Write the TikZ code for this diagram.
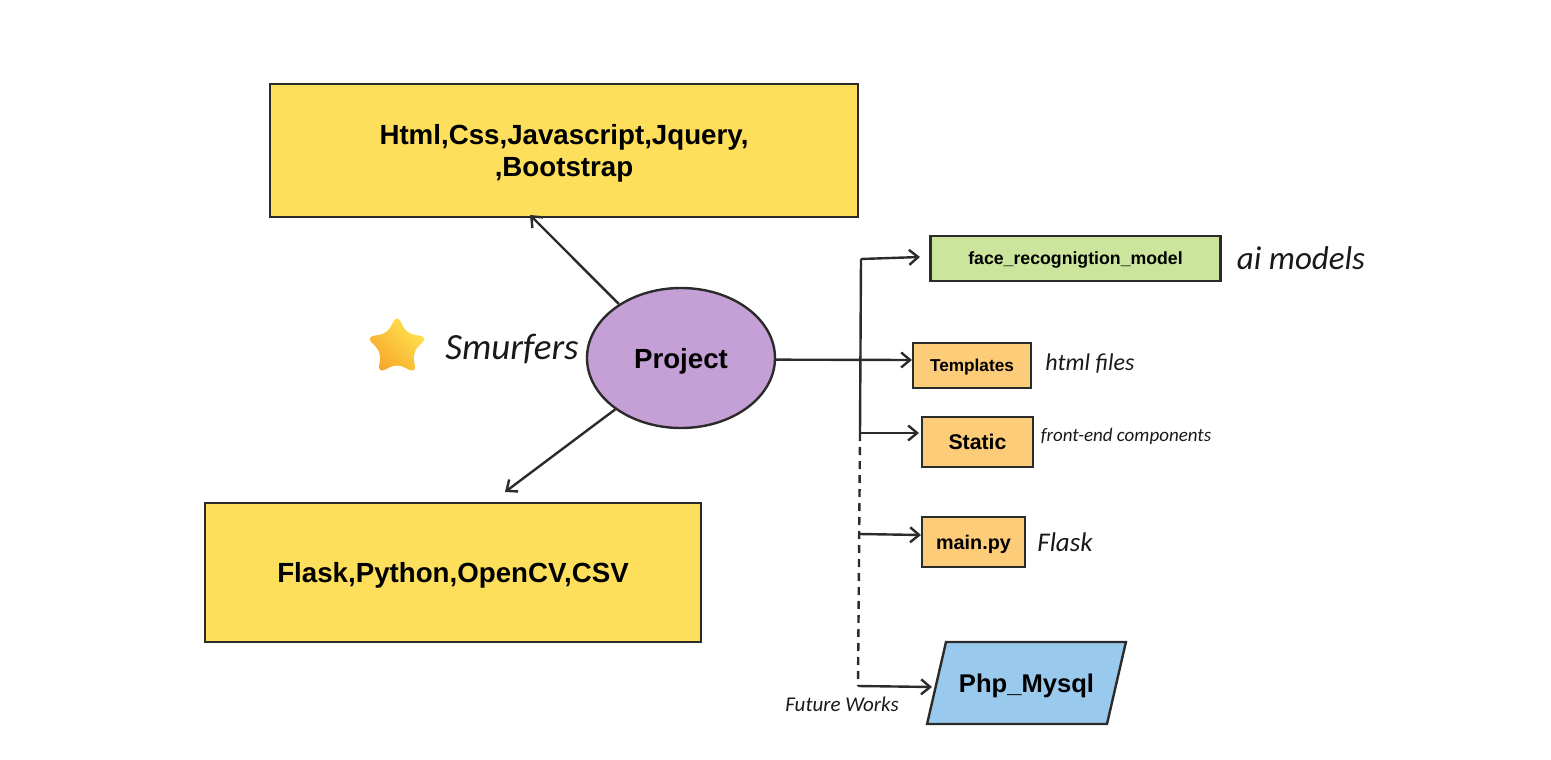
\documentclass[tikz,border=0pt]{standalone}
\usepackage{fontspec}
\setmainfont{Liberation Sans}
\newfontfamily\handfont{Carlito}
\usetikzlibrary{arrows.meta,shapes.geometric}
\definecolor{boxyellow}{HTML}{FDDF5B}
\definecolor{boxpurple}{HTML}{C5A0D6}
\definecolor{boxgreen}{HTML}{CCE59C}
\definecolor{boxorange}{HTML}{FDCC78}
\definecolor{boxblue}{HTML}{9AC9EE}
\definecolor{inkline}{HTML}{2B2B2B}
\definecolor{starlow}{HTML}{F7A62B}
\definecolor{starhigh}{HTML}{FFE650}
\newcommand{\fsize}[1]{\fontsize{#1}{#1}\selectfont}
\begin{document}
\begin{tikzpicture}[x=1pt,y=-1pt,
	box/.style={draw=inkline,line width=2.4pt,inner sep=0,text depth=0pt,font=\bfseries},
	note/.style={inner sep=0,text=black!90,font=\handfont\itshape},
	link/.style={draw=inkline,line width=2.4pt,-{Straight Barb[length=9pt,width=15pt,line width=2.4pt]}},
	spine/.style={draw=inkline,line width=2.4pt}]
\useasboundingbox (0,0) rectangle (1551,760);
\node[box,fill=boxyellow,minimum width=588pt,minimum height=133pt,align=center,font=\bfseries\fsize{27.7}] (front) at (564,150.5) {Html,Css,Javascript,Jquery,\\[4pt],Bootstrap};
\node[box,fill=boxyellow,minimum width=496pt,minimum height=139pt,font=\bfseries\fsize{27.7}] (back) at (453,572.5) {Flask,Python,OpenCV,CSV};
\node[box,ellipse,fill=boxpurple,minimum width=188pt,minimum height=140pt,font=\bfseries\fsize{27.7}] (project) at (681,358) {Project};
\node[box,fill=boxgreen,minimum width=290pt,minimum height=45pt,font=\bfseries\fsize{17.7}] (model) at (1075.5,258.5) {face\_recognigtion\_model};
\node[box,fill=boxorange,minimum width=118pt,minimum height=45pt,font=\bfseries\fsize{17.2}] (templates) at (972,365.5) {Templates};
\node[box,fill=boxorange,minimum width=111pt,minimum height=50pt,font=\bfseries\fsize{21.3}] (static) at (977.5,442) {Static};
\node[box,fill=boxorange,minimum width=103pt,minimum height=50pt,font=\bfseries\fsize{19.8}] (mainpy) at (973.5,542) {main.py};
\node[box,trapezium,trapezium left angle=77,trapezium right angle=103,fill=boxblue,text width=161pt,align=center,text height=50pt,text depth=32pt,font=\bfseries\fsize{25.6}] (php) at (1026.5,683) {Php\_Mysql};
% labels
\node[star,star points=5,star point ratio=1.9,minimum size=64pt,inner sep=0,rounded corners=7pt,top color=starhigh,bottom color=starlow,shading angle=-45] (badge) at (397,347) {};
\node[note,font=\handfont\itshape\fsize{37}] (smurfers) at (512,349) {Smurfers};
\node[note,font=\handfont\itshape\fsize{33}] (ailabel) at (1301,258) {ai models};
\node[note,font=\handfont\itshape\fsize{24}] (htmllabel) at (1090,364) {html files};
\node[note,font=\handfont\itshape\fsize{19}] (frontlabel) at (1126,436) {front-end components};
\node[note,font=\handfont\itshape\fsize{27}] (flasklabel) at (1065,542) {Flask};
\node[note,font=\handfont\itshape\fsize{21}] (future) at (842,704) {Future Works};
% junctions on the spine
\coordinate (top) at (861,259);
\coordinate (staticj) at (860,433);
\coordinate (mainj) at (859,534);
\coordinate (phpj) at (858,686);
\coordinate (fronttip) at (530,215);
\coordinate (backtip) at (505,492);
\coordinate (modeltip) at (920,257);
\coordinate (templatestip) at (912,360);
\coordinate (statictip) at (919,433);
\coordinate (maintip) at (921,535);
\coordinate (phptip) at (932,687);
\draw[spine] (staticj) -- (top);
\draw[spine,dash pattern=on 8pt off 6pt] (staticj) -- (phpj);
\draw[link] (project.139) -- (fronttip);
\draw[link] (project.218) -- (backtip);
\draw[link] (project.359) -- (templatestip);
\draw[link] (top) -- (modeltip);
\draw[link] (staticj) -- (statictip);
\draw[link] (mainj) -- (maintip);
\draw[link] (phpj) -- (phptip);
\end{tikzpicture}
\end{document}
